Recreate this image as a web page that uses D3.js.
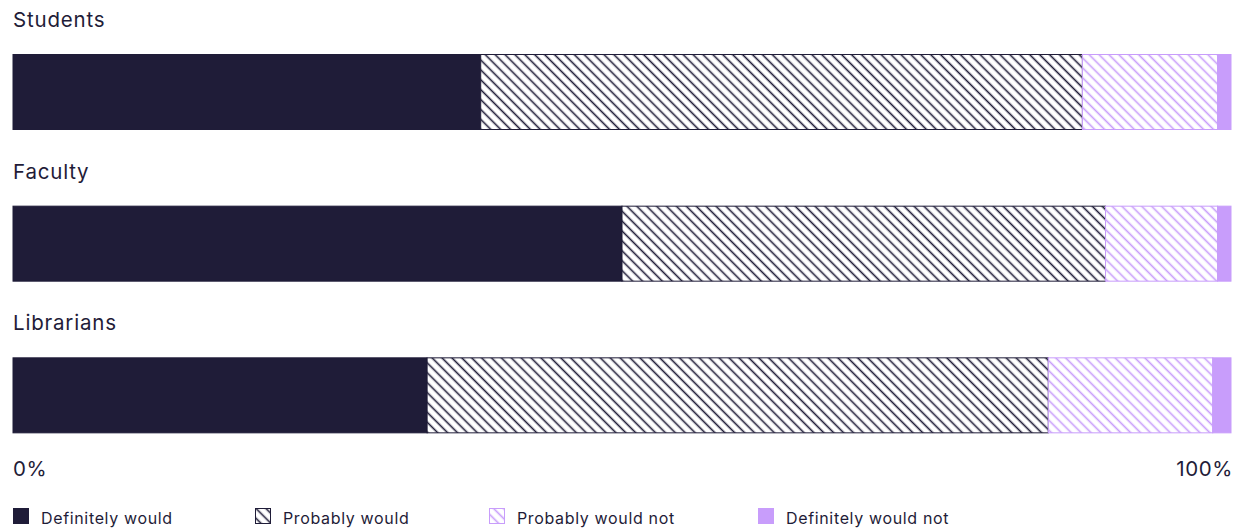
<!DOCTYPE html>
<html><head><meta charset="utf-8">
<script src="https://cdn.jsdelivr.net/npm/d3@7/dist/d3.min.js"></script>
<style>body{margin:0;background:#fff;font-family:Inter,"Noto Sans",sans-serif;}</style>
</head><body>
<svg id="c" width="1236" height="531"></svg>
<script>
const groups = ["Students", "Faculty", "Librarians"];
const seriesNames = ["Definitely would", "Probably would", "Probably would not", "Definitely would not"];
const definitelyWould = [38.4, 50.0, 34.0];
const probablyWould = [49.4, 39.7, 51.0];
const probablyWouldNot = [11.1, 9.2, 13.5];
const definitelyWouldNot = [1.1, 1.1, 1.5];
const tickLabels = ["0%", "100%"];

const dark = "#1f1c38", purple = "#c89dfb";
const svg = d3.select("#c");
const defs = svg.append("defs");
function hatch(id, color){
  const p = defs.append("pattern").attr("id", id).attr("patternUnits","userSpaceOnUse")
    .attr("width", 7).attr("height", 7).attr("patternTransform","rotate(45)");
  p.append("rect").attr("width",7).attr("height",7).attr("fill","#fff");
  p.append("line").attr("x1",0).attr("y1",3.5).attr("x2",7).attr("y2",3.5)
    .attr("stroke", color).attr("stroke-width", 1.6);
}
hatch("hDark", dark);
hatch("hPurple", purple);

const fills = [dark, "url(#hDark)", "url(#hPurple)", purple];
const strokes = [dark, dark, purple, purple];
const seriesVals = [definitelyWould, probablyWould, probablyWouldNot, definitelyWouldNot];

const x = d3.scaleLinear().domain([0, 100]).range([13, 1231]);
const y = d3.scaleBand().domain(groups).range([10, 465]).paddingInner(0.0);
const barTop = 44.5, barH = 75;

groups.forEach((g, gi) => {
  const y0 = y(g);
  svg.append("text").attr("x", 13).attr("y", y0 + 17).attr("fill", dark)
    .attr("font-size", 20.5).attr("letter-spacing", 0.8).text(g);
  let cum = 0;
  const total = seriesVals.reduce((s, a) => s + a[gi], 0);
  seriesVals.forEach((arr, si) => {
    const v = arr[gi] / total * 100;
    svg.append("rect").attr("x", x(cum)).attr("y", y0 + barTop)
      .attr("width", x(cum + v) - x(cum)).attr("height", barH)
      .attr("fill", fills[si]).attr("stroke", strokes[si]).attr("stroke-width", 1);
    cum += v;
  });
});

// axis labels
svg.append("text").attr("x", x(0)).attr("y", 476).attr("font-size", 20.5).attr("letter-spacing", 0.6).attr("fill", dark).text(tickLabels[0]);
svg.append("text").attr("x", x(100) + 2).attr("y", 476).attr("font-size", 20.5).attr("letter-spacing", 0.6).attr("fill", dark)
  .attr("text-anchor","end").text(tickLabels[1]);

// legend
const legX = [13, 255, 489, 758];
seriesNames.forEach((n, i) => {
  svg.append("rect").attr("x", legX[i] + 0.5).attr("y", 508.5).attr("width", 15).attr("height", 15)
    .attr("fill", fills[i]).attr("stroke", strokes[i]).attr("stroke-width", 1);
  svg.append("text").attr("x", legX[i] + 28).attr("y", 524).attr("font-size", 16).attr("letter-spacing", 0.65).attr("fill", dark).text(n);
});
</script>
</body></html>
